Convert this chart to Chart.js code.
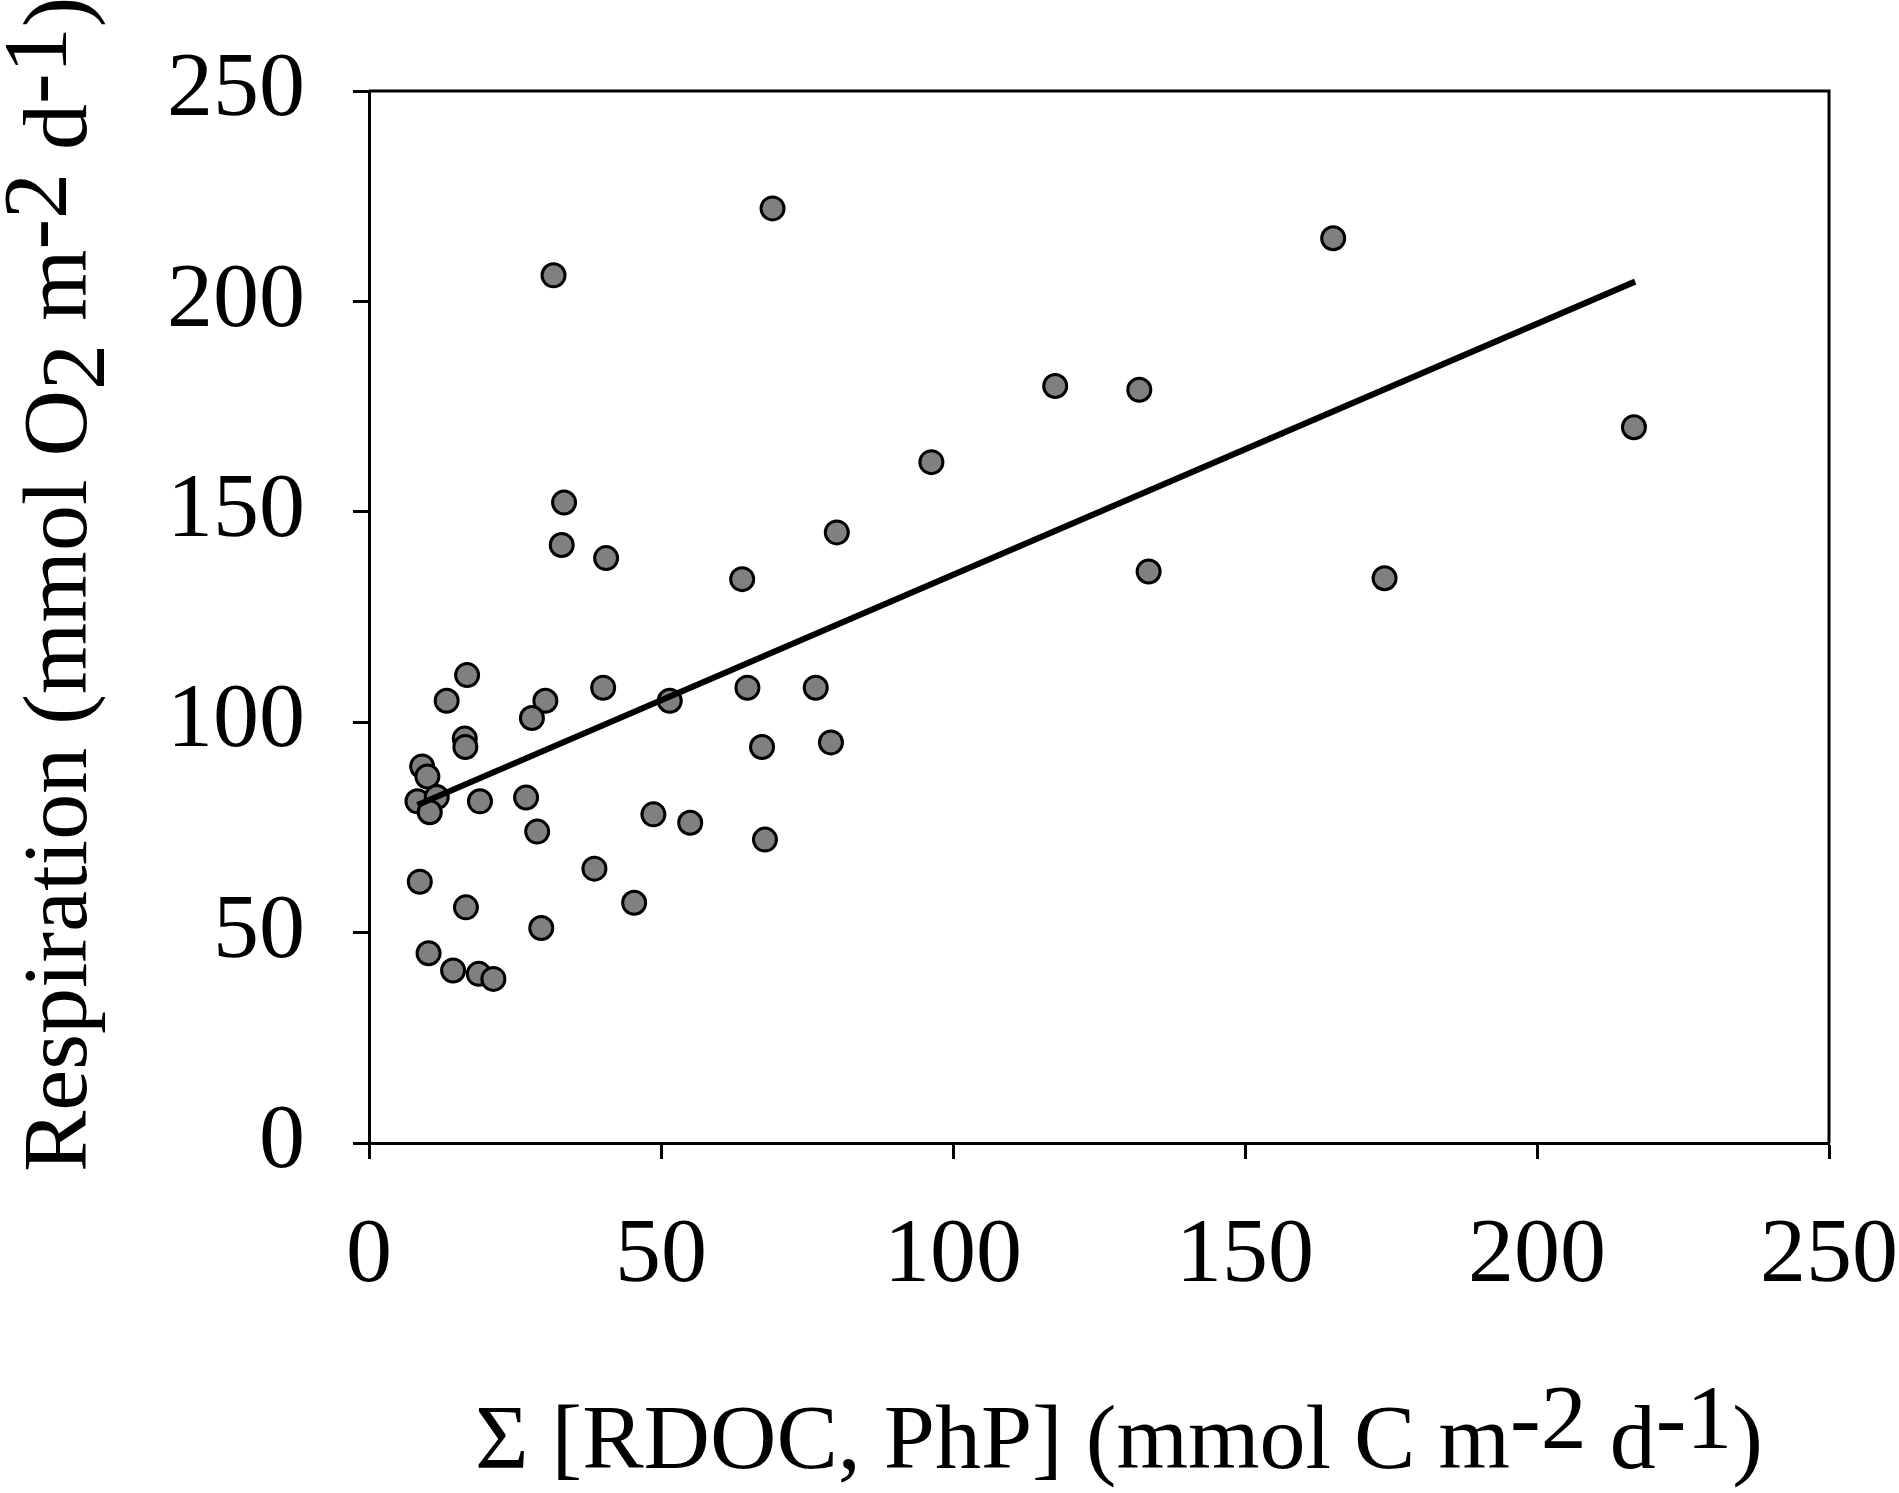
<!DOCTYPE html>
<html>
<head>
<meta charset="utf-8">
<script src="https://cdn.jsdelivr.net/npm/chart.js@4.4.1/dist/chart.umd.min.js"></script>
<style>
  html, body { margin: 0; padding: 0; background: #fff; }
  canvas { display: block; }
</style>
</head>
<body>
<canvas id="resp-chart" width="1899" height="1493" style="width:1899px;height:1493px"></canvas>
<script>
// Sum of RDOC and PhP (x) against respiration (y)
const sumRdocPhp = [
  16.8, 13.3, 30.2, 27.9, 40.1, 51.5, 16.4, 16.5, 9.1, 10.0,
  8.3, 11.6, 10.4, 19.0, 26.9, 28.8, 48.7, 55.0, 38.6, 8.7,
  16.6, 45.4, 29.5, 10.2, 14.4, 18.8, 21.3,
  69.1, 31.6, 33.4, 33.0, 40.6, 80.1, 63.9,
  64.8, 76.5, 67.3, 79.1, 67.8,
  165.1, 216.6, 173.9,
  117.5, 131.9, 96.3, 133.5
];
const respiration = [
  111.2, 105.1, 105.1, 101.0, 108.2, 105.1, 96.1, 94.1, 89.5, 87.1,
  81.2, 82.2, 78.6, 81.2, 82.1, 74.0, 78.1, 76.1, 65.2, 62.1,
  56.0, 57.1, 51.1, 45.1, 41.0, 40.2, 39.0,
  222.1, 206.2, 152.2, 142.1, 139.0, 145.1, 134.0,
  108.2, 108.2, 94.1, 95.2, 72.1,
  215.0, 170.1, 134.2,
  179.9, 179.0, 161.8, 135.8
];

// regression line end points
const fitX = [8.3, 216.8];
const fitY = [80.3, 204.7];

// axis ticks
const tickMin = 0;
const tickMax = 250;
const tickStep = 50;

// axis titles, split into runs so the sub/superscripts can be shifted
const yTitleParts = [
  { t: "Respiration (mmol O" },
  { t: "2", dy: 18 },
  { t: " m" },
  { t: "-2", dy: -20 },
  { t: " d" },
  { t: "-1", dy: -20 },
  { t: ")" }
];
const xTitleParts = [
  { t: "\u03A3 [RDOC, PhP] (mmol C m" },
  { t: "-2", dy: -20 },
  { t: " d" },
  { t: "-1", dy: -20 },
  { t: ")" }
];

const serif = "'Liberation Serif', 'Times New Roman', serif";

function drawParts(ctx, parts, x, y) {
  let cx = x;
  parts.forEach((p) => {
    ctx.fillText(p.t, cx, y + (p.dy || 0));
    cx += ctx.measureText(p.t).width;
  });
}

// top and right sides of the frame
const frameBox = {
  id: "frameBox",
  afterDraw(chart) {
    const { ctx, chartArea: a } = chart;
    ctx.save();
    ctx.strokeStyle = "#000";
    ctx.lineWidth = 3;
    ctx.beginPath();
    ctx.moveTo(a.left, a.top);
    ctx.lineTo(a.right, a.top);
    ctx.lineTo(a.right, a.bottom);
    ctx.stroke();
    ctx.restore();
  }
};

// axis titles with superscripts and subscripts
const richTitles = {
  id: "richTitles",
  afterDraw(chart) {
    const { ctx, chartArea: a } = chart;
    ctx.save();
    ctx.fillStyle = "#000";
    ctx.font = "92px " + serif;
    ctx.textAlign = "left";
    ctx.textBaseline = "alphabetic";

    drawParts(ctx, xTitleParts, a.left + 106, a.bottom + 325);

    ctx.translate(a.left - 283, a.bottom + 29);
    ctx.rotate(-Math.PI / 2);
    drawParts(ctx, yTitleParts, 0, 0);
    ctx.restore();
  }
};

const points = sumRdocPhp.map((x, i) => ({ x: x, y: respiration[i] }));
const fitLine = fitX.map((x, i) => ({ x: x, y: fitY[i] }));

const tickFont = { family: serif, size: 92 };

const ctx = document.getElementById("resp-chart");

const chart = new Chart(ctx, {
  type: "scatter",
  data: {
    datasets: [
      {
        // drawn last, so it sits on top of the dots
        type: "line",
        label: "Fit",
        data: fitLine,
        borderColor: "#000",
        borderWidth: 6,
        pointRadius: 0,
        fill: false,
        tension: 0
      },
      {
        label: "Respiration",
        data: points,
        backgroundColor: "#808080",
        borderColor: "#000",
        borderWidth: 3,
        pointRadius: 11.5
      }
    ]
  },
  options: {
    responsive: false,
    devicePixelRatio: 1,
    animation: false,
    layout: {
      padding: { left: 0, top: 91, right: 70, bottom: 0 }
    },
    plugins: {
      legend: { display: false },
      tooltip: { enabled: false },
      title: { display: false }
    },
    scales: {
      x: {
        type: "linear",
        min: tickMin,
        max: tickMax,
        afterFit(scale) {
          // fixed axis band; labels may hang into the side padding
          scale.height = 350;
          scale.paddingLeft = 0;
          scale.paddingRight = 0;
        },
        ticks: {
          stepSize: tickStep,
          color: "#000",
          font: tickFont,
          padding: 43,
          maxRotation: 0
        },
        grid: {
          drawOnChartArea: false,
          tickLength: 16,
          tickWidth: 3,
          tickColor: "#000"
        },
        border: { display: true, color: "#000", width: 3 }
      },
      y: {
        type: "linear",
        min: tickMin,
        max: tickMax,
        afterFit(scale) {
          scale.width = 369;
          scale.paddingTop = 0;
          scale.paddingBottom = 0;
        },
        ticks: {
          stepSize: tickStep,
          color: "#000",
          font: tickFont,
          padding: 48
        },
        grid: {
          drawOnChartArea: false,
          tickLength: 16,
          tickWidth: 3,
          tickColor: "#000"
        },
        border: { display: true, color: "#000", width: 3 }
      }
    }
  },
  plugins: [frameBox, richTitles]
});
</script>
</body>
</html>
